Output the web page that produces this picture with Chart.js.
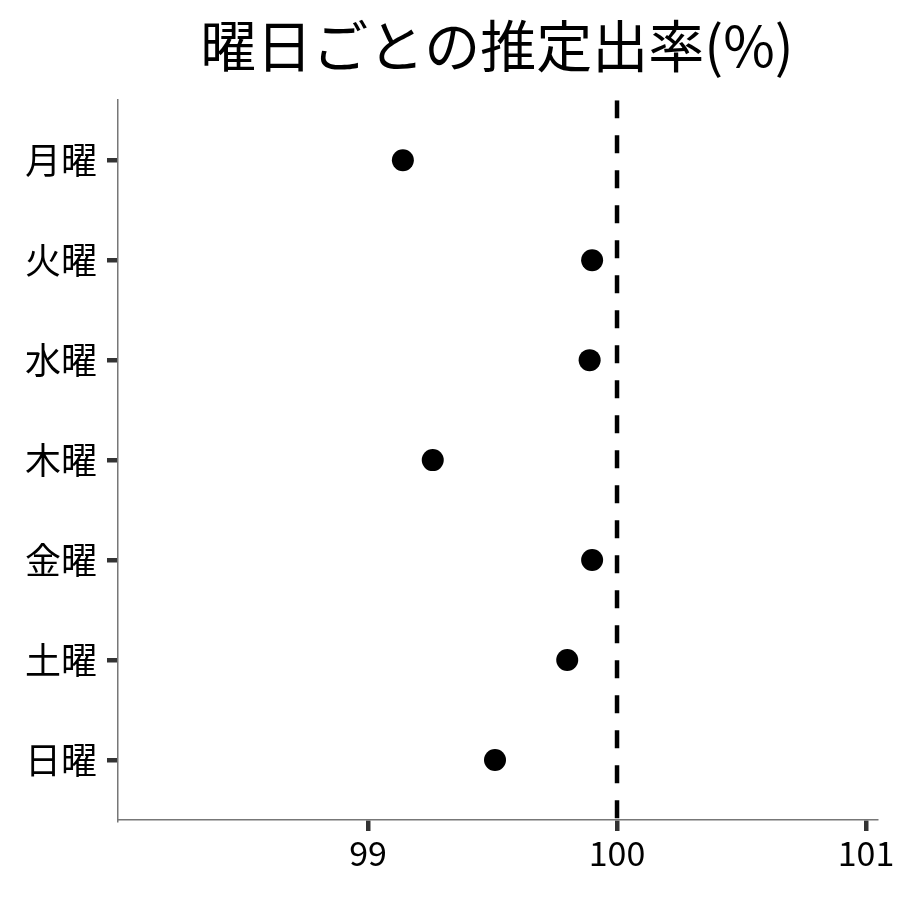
<!DOCTYPE html>
<html>
<head>
<meta charset="utf-8">
<script src="https://cdn.jsdelivr.net/npm/chart.js@4"></script>
<style>
  html, body { margin: 0; padding: 0; background: #fff; }
  #wrap { width: 900px; height: 900px; }
</style>
</head>
<body>
<div id="wrap"><canvas id="dotChart" width="900" height="900"></canvas></div>
<script>
// Data
const days = ['月曜', '火曜', '水曜', '木曜', '金曜', '土曜', '日曜'];
const rates = [99.14, 99.90, 99.89, 99.26, 99.90, 99.80, 99.51];
const xTicks = [99, 100, 101];
const refValue = 100;
const titleText = '曜日ごとの推定出率(%)';

const FONT = "'Noto Sans CJK JP', 'Noto Sans', sans-serif";

const points = days.map((d, i) => ({ x: rates[i], y: i + 1 }));
const yMin = 0.4, yMax = days.length + 0.6;

const ctx = document.getElementById('dotChart').getContext('2d');
new Chart(ctx, {
    type: 'scatter',
    data: {
        datasets: [
            {
                label: 'rate',
                data: points,
                backgroundColor: '#000',
                borderWidth: 0,
                pointRadius: 11,
                order: 1
            },
            {
                label: 'ref',
                type: 'line',
                data: [{ x: refValue, y: yMin }, { x: refValue, y: yMax }],
                borderColor: '#000',
                borderWidth: 4.5,
                borderDash: [18, 17],
                pointRadius: 0,
                fill: false,
                order: 2
            }
        ]
    },
    options: {
        responsive: false,
        animation: false,
        layout: { padding: { left: 0, right: 24, top: 0, bottom: 0 } },
        plugins: {
            legend: { display: false },
            tooltip: { enabled: false },
            title: {
                display: true,
                text: titleText,
                fullSize: false,
                color: '#000',
                font: { family: FONT, size: 56, weight: 'normal' },
                padding: { top: 12, bottom: 21 }
            }
        },
        scales: {
            x: {
                type: 'linear',
                min: 97.996,
                max: 101.04,
                afterBuildTicks: s => { s.ticks = xTicks.map(v => ({ value: v })); },
                afterFit: s => { s.height = 80; },
                border: { display: true, color: '#777', width: 1.5 },
                grid: { drawOnChartArea: false, drawTicks: true, tickLength: 11, tickColor: '#333', lineWidth: 4.5, tickWidth: 4.5 },
                ticks: {
                    color: '#000',
                    padding: 2,
                    font: { family: FONT, size: 34 },
                    callback: v => String(v)
                }
            },
            y: {
                type: 'linear',
                reverse: true,
                min: yMin,
                max: yMax,
                afterBuildTicks: s => { s.ticks = days.map((d, i) => ({ value: i + 1 })); },
                afterFit: s => { s.width = 118; },
                border: { display: true, color: '#777', width: 1.5 },
                grid: { drawOnChartArea: false, drawTicks: true, tickLength: 11, tickColor: '#333', lineWidth: 4.5, tickWidth: 4.5 },
                ticks: {
                    color: '#000',
                    padding: 10,
                    font: { family: FONT, size: 36 },
                    callback: v => days[Math.round(v) - 1] || ''
                }
            }
        }
    }
});
</script>
</body>
</html>
